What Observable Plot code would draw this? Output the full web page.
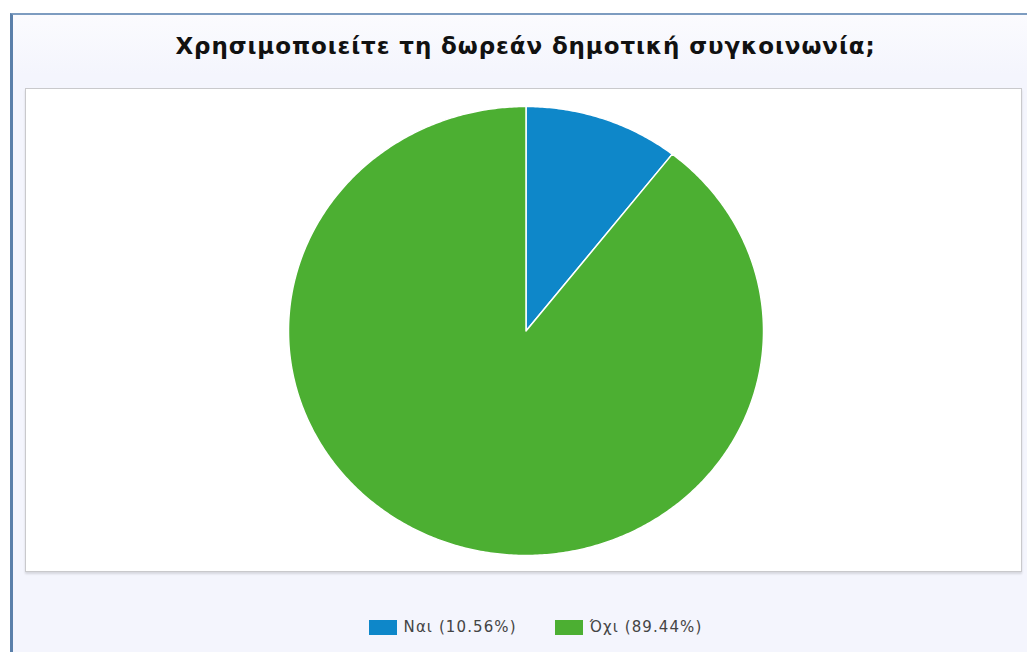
<!DOCTYPE html>
<html>
<head>
<meta charset="utf-8">
<script src="https://cdn.jsdelivr.net/npm/d3@7"></script>
<script src="https://cdn.jsdelivr.net/npm/@observablehq/plot@0.6"></script>
<style>
  html, body { margin: 0; padding: 0; background: #ffffff; width: 1027px; height: 652px; overflow: hidden; }
  #frame { position: absolute; left: 10px; top: 13px; width: 1030px; height: 660px;
           border-left: 3px solid #5b80aa; border-top: 2px solid #7d9cc0;
           background: linear-gradient(#fbfbfe, #f4f5fd 60px, #f4f5fd); }
  #title { position: absolute; left: 0; top: 33px; width: 1051px; text-align: center;
           font-family: "DejaVu Sans", Verdana, sans-serif; font-weight: bold; font-size: 23px; color: #111; letter-spacing: 0.9px; }
  #panel { position: absolute; left: 25px; top: 88px; width: 995px; height: 482px;
           background: #ffffff; border: 1px solid #c9c9cc; box-shadow: 0 2px 2px rgba(0,0,0,0.12); }
  #panel svg { position: absolute; left: 0; top: 0; }
  #legend { position: absolute; left: 0; top: 618px; width: 1071px; text-align: center; white-space: nowrap;
            font-family: "DejaVu Sans", Verdana, sans-serif; font-size: 15px; color: #444; letter-spacing: 1.1px; }
  .item { display: inline-flex; align-items: center; margin: 0 19px; }
  .sw { display: inline-block; width: 28px; height: 15px; margin-right: 7px; }
</style>
</head>
<body>
<div id="frame"></div>
<div id="title"></div>
<div id="panel"></div>
<div id="legend"></div>
<script>
const titleText = "Χρησιμοποιείτε τη δωρεάν δημοτική συγκοινωνία;";
const categories = ["Ναι", "Όχι"];
const values = [10.56, 89.44];
const colors = ["#0e87c9", "#4caf32"];

document.getElementById("title").textContent = titleText;

// Build slice outlines from the data (angles via d3.pie), in unit coordinates
const arcs = d3.pie().sort(null)(values);
const pts = [];
arcs.forEach((a, i) => {
  const label = categories[i];
  pts.push({label, x: 0, y: 0});
  const n = Math.max(8, Math.ceil((a.endAngle - a.startAngle) / 0.01));
  for (let k = 0; k <= n; k++) {
    const t = a.startAngle + (a.endAngle - a.startAngle) * k / n;
    pts.push({label, x: Math.sin(t), y: Math.cos(t)});
  }
  pts.push({label, x: 0, y: 0});
});

const W = 995, H = 482;
const chart = Plot.plot({
  width: W, height: H,
  marginLeft: 262, marginRight: 258, marginTop: 17, marginBottom: 16,
  x: {domain: [-1, 1], axis: null},
  y: {domain: [-1, 1], axis: null},
  color: {domain: categories, range: colors},
  style: {background: "transparent", overflow: "visible"},
  marks: categories.map((c, i) =>
    Plot.line(pts.filter(d => d.label === c), {
      x: "x", y: "y", fill: colors[i], stroke: "#ffffff", strokeWidth: 1.5, curve: "linear"
    })
  )
});
document.getElementById("panel").appendChild(chart);

const legend = document.getElementById("legend");
categories.forEach((c, i) => {
  const item = document.createElement("span");
  item.className = "item";
  const sw = document.createElement("span");
  sw.className = "sw";
  sw.style.background = colors[i];
  item.appendChild(sw);
  item.appendChild(document.createTextNode(`${c} (${values[i].toFixed(2)}%)`));
  legend.appendChild(item);
});
</script>
</body>
</html>
